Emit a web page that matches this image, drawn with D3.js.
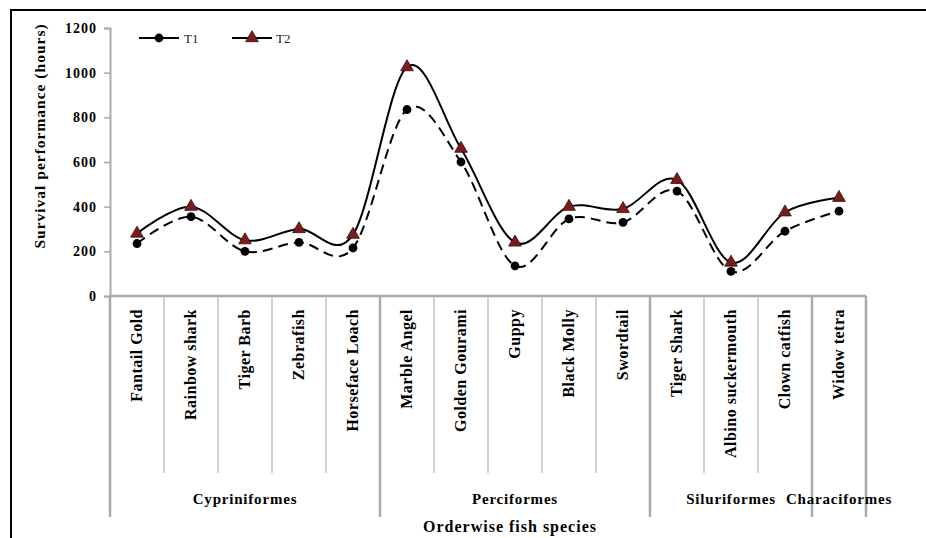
<!DOCTYPE html>
<html><head><meta charset="utf-8">
<script src="https://cdn.jsdelivr.net/npm/d3@7"></script>
<style>body{margin:0;background:#fff}svg{display:block}
svg text{font-family:"Liberation Serif","Times New Roman",serif;}</style>
</head><body>
<svg id="c" width="926" height="538"></svg>
<script>
const species = ["Fantail Gold","Rainbow shark","Tiger Barb","Zebrafish","Horseface Loach","Marble Angel","Golden Gourami","Guppy","Black Molly","Swordtail","Tiger Shark","Albino suckermouth","Clown catfish","Widow tetra"];
const orders = ["Cypriniformes","Cypriniformes","Cypriniformes","Cypriniformes","Cypriniformes","Perciformes","Perciformes","Perciformes","Perciformes","Perciformes","Siluriformes","Siluriformes","Siluriformes","Characiformes"];
const t1 = [235,355,200,240,215,835,600,135,345,330,470,110,290,380];
const t2 = [280,400,250,300,275,1025,660,240,400,390,520,150,375,440];
const yTicks = [0,200,400,600,800,1000,1200];

(function(){
const svg = d3.select("#c");
const pLeft = 110, pRight = 866, pTop = 28, pBottom = 296;

svg.append("rect").attr("x",11).attr("y",10).attr("width",940).attr("height",560)
  .attr("fill","none").attr("stroke","#000").attr("stroke-width",2);

const x = d3.scaleBand().domain(species).range([pLeft,pRight]);
const y = d3.scaleLinear().domain([0,1200]).range([pBottom,pTop]);

const ya = svg.append("g").attr("transform",`translate(${pLeft},0)`)
  .call(d3.axisLeft(y).tickValues(yTicks).tickFormat(d3.format("d")).tickSize(6).tickPadding(7));
ya.attr("font-family",null);
ya.select(".domain").attr("stroke","#aaa").attr("stroke-width",2);
ya.selectAll(".tick line").attr("stroke","#aaa").attr("stroke-width",1.5);
ya.selectAll(".tick text").attr("font-weight","bold")
  .attr("font-size",14).attr("fill","#000").attr("letter-spacing",1);

svg.append("text").attr("transform",`translate(45,${(pTop+pBottom)/2-26}) rotate(-90)`)
  .attr("text-anchor","middle").attr("font-weight","bold")
  .attr("font-size",15.5).attr("letter-spacing",1).text("Survival performance (hours)");

svg.append("line").attr("x1",pLeft).attr("x2",pRight).attr("y1",pBottom).attr("y2",pBottom)
  .attr("stroke","#aaa").attr("stroke-width",2.5);

d3.range(species.length+1).forEach(i=>{
  const xp = i<species.length ? x(species[i]) : pRight;
  const major = i===0 || i===species.length || orders[i]!==orders[i-1];
  svg.append("line").attr("x1",xp).attr("x2",xp).attr("y1",pBottom)
    .attr("y2", major?517:473)
    .attr("stroke", major?"#aaa":"#b5b5b5").attr("stroke-width", major?2.5:1.2);
});

species.forEach(s=>{
  const cx = x(s)+x.bandwidth()/2;
  svg.append("text").attr("transform",`translate(${cx+5},309) rotate(-90)`)
    .attr("text-anchor","end").attr("font-weight","bold")
    .attr("font-size",16).attr("letter-spacing",0.5).text(s);
});

const groups = [];
orders.forEach((o,i)=>{
  if(!groups.length || groups[groups.length-1].name!==o) groups.push({name:o,start:i,end:i});
  else groups[groups.length-1].end=i;
});
groups.forEach(g=>{
  const x0 = x(species[g.start]), x1 = x(species[g.end])+x.bandwidth();
  svg.append("text").attr("x",(x0+x1)/2).attr("y",504).attr("text-anchor","middle")
    .attr("font-weight","bold").attr("font-size",15).attr("letter-spacing",0.8).text(g.name);
});

svg.append("text").attr("x",510).attr("y",532).attr("text-anchor","middle")
  .attr("font-weight","bold").attr("font-size",16).attr("letter-spacing",1)
  .text("Orderwise fish species");

const cx = (d,i)=>x(species[i])+x.bandwidth()/2;
const line = d3.line().x(cx).y(d=>y(d)).curve(d3.curveCardinal.tension(0));
svg.append("path").attr("d",line(t2)).attr("fill","none").attr("stroke","#000").attr("stroke-width",2);
svg.append("path").attr("d",line(t1)).attr("fill","none").attr("stroke","#000").attr("stroke-width",2)
  .attr("stroke-dasharray","10,6");

const tri = d3.symbol().type(d3.symbolTriangle).size(70);
svg.selectAll(".m2").data(t2).enter().append("path")
  .attr("transform",(d,i)=>`translate(${cx(d,i)},${y(d)})`).attr("d",tri())
  .attr("fill","#7a1c1c").attr("stroke","#3a0a0a").attr("stroke-width",0.8);
svg.selectAll(".m1").data(t1).enter().append("circle")
  .attr("cx",cx).attr("cy",d=>y(d)).attr("r",4.4).attr("fill","#000");

const lg = svg.append("g");
lg.append("line").attr("x1",139).attr("x2",179).attr("y1",38).attr("y2",38).attr("stroke","#000").attr("stroke-width",2);
lg.append("circle").attr("cx",159).attr("cy",38).attr("r",4.4).attr("fill","#000");
lg.append("text").attr("x",184).attr("y",43).attr("font-size",13).attr("fill","#222").text("T1");
lg.append("line").attr("x1",232).attr("x2",272).attr("y1",38).attr("y2",38).attr("stroke","#000").attr("stroke-width",2);
lg.append("path").attr("transform","translate(252,38)").attr("d",tri()).attr("fill","#7a1c1c").attr("stroke","#3a0a0a").attr("stroke-width",0.8);
lg.append("text").attr("x",276).attr("y",43).attr("font-size",13).attr("fill","#222").text("T2");
})();
</script>
</body></html>
